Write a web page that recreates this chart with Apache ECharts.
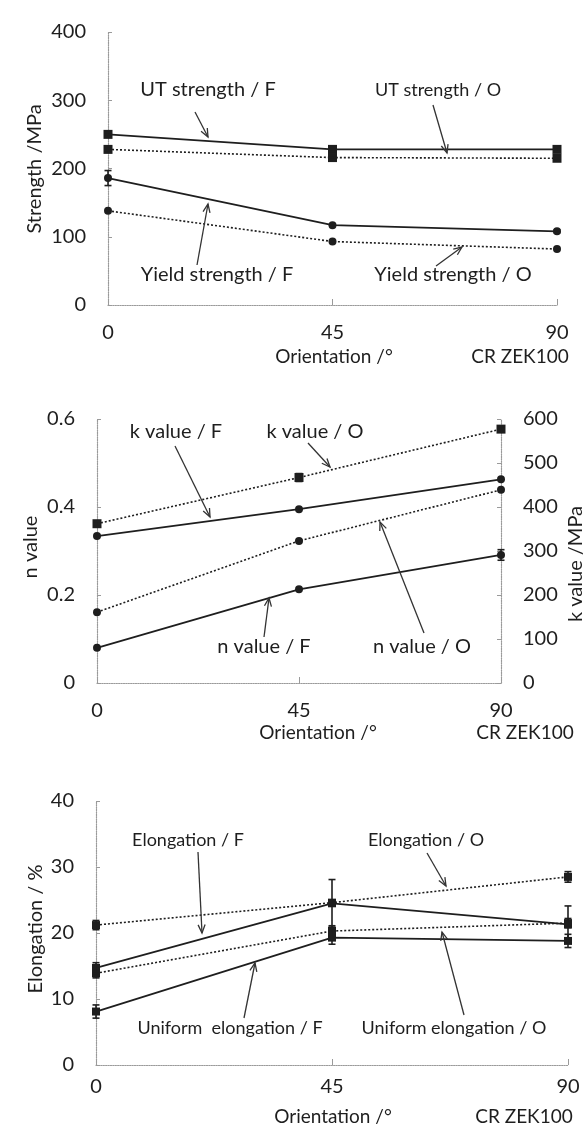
<!DOCTYPE html>
<html>
<head>
<meta charset="utf-8">
<script src="https://cdn.jsdelivr.net/npm/echarts@6/dist/echarts.min.js"></script>
<style>
html,body{margin:0;padding:0;background:#fff;}
#c{width:584px;height:1128px;}
</style>
</head>
<body>
<div id="c"></div>
<script>
// ---------- data ----------
const orientation = [0, 45, 90];
const xTicks = [0, 45, 90];
// Panel 1: strength (MPa)
const utsF = [250, 228, 228];
const utsO = [228, 216, 215];
const ysF  = [186, 117, 108];
const ysO  = [138, 93, 82];
const ysFErr = [11, 2, 2];
const utsFErr = [3, 3, 3];
const utsOErr = [2, 3, 3];
// Panel 2: n value and k value (MPa)
const nF = [0.080, 0.213, 0.291];
const nO = [0.161, 0.323, 0.439];
const kF = [334, 395, 463];
const kO = [362, 467, 577];
const nFErr = [0, 0, 0.012];
const kOErr = [5, 9, 5];
// Panel 3: elongation (%)
const elF = [14.7, 24.5, 21.3];
const elO = [21.2, 24.6, 28.5];
const ueF = [8.1, 19.3, 18.8];
const ueO = [13.9, 20.3, 21.5];
const elFErr = [0.8, 3.6, 2.8];
const elOErr = [0.7, 0, 0.8];
const ueFErr = [1.0, 1.0, 1.0];
const ueOErr = [0.7, 0.8, 0.7];

// ---------- styling ----------
const FONT = 'Lato';
const INK = '#1e1e1e';
const AX = '#9a9a9a';

function pairs(vals){ return orientation.map((x,i)=>[x, vals[i]]); }
function errData(vals, errs){ return orientation.map((x,i)=>[x, vals[i], errs[i]]).filter(d=>d[2]>0); }

function lineSeries(vals, xi, yi, dotted, symbol, size){
  return {
    type:'line', xAxisIndex:xi, yAxisIndex:yi, data:pairs(vals),
    symbol:symbol, symbolSize:size, showSymbol:true,
    lineStyle:{color:INK, width: dotted?1.6:1.8, type: dotted?[2,2]:'solid'},
    itemStyle:{color:INK}, z:3, animation:false
  };
}
function errSeries(vals, errs, xi, yi){
  return {
    type:'custom', xAxisIndex:xi, yAxisIndex:yi, data:errData(vals, errs),
    encode:{x:0, y:1}, z:4, animation:false,
    renderItem:function(params, api){
      const x = api.value(0), v = api.value(1), e = api.value(2);
      const t = api.coord([x, v+e]), b = api.coord([x, v-e]);
      const c = 3.5;
      const st = {stroke:INK, lineWidth:1.6};
      return {type:'group', children:[
        {type:'line', shape:{x1:t[0],y1:t[1],x2:b[0],y2:b[1]}, style:st},
        {type:'line', shape:{x1:t[0]-c,y1:t[1],x2:t[0]+c,y2:t[1]}, style:st},
        {type:'line', shape:{x1:b[0]-c,y1:b[1],x2:b[0]+c,y2:b[1]}, style:st}
      ]};
    }
  };
}

function xAxis(gi, margin){
  return {
    gridIndex:gi, type:'value', min:0, max:90, interval:45,
    axisLine:{show:true, onZero:false, lineStyle:{color:AX, type:'dotted', width:1.2}},
    axisTick:{show:true, inside:true, length:6, lineStyle:{color:AX}},
    splitLine:{show:false},
    axisLabel:{color:INK, fontFamily:FONT, fontSize:20, margin:margin,
      customValues:xTicks}
  };
}
function yAxis(gi, min, max, interval, pos, fmt){
  return {
    gridIndex:gi, type:'value', min:min, max:max, interval:interval, position:pos||'left',
    axisLine:{show:true, lineStyle:{color:AX, type:'dotted', width:1.2}},
    axisTick:{show:true, inside:true, length:4, lineStyle:{color:AX}},
    splitLine:{show:false},
    axisLabel:{color:INK, fontFamily:FONT, fontSize:20, margin:22, formatter:fmt}
  };
}

// ---------- annotations (layout only) ----------
const texts = [
  ['UT strength / F', 208, 90, 20],
  ['UT strength / O', 438, 90, 18],
  ['Yield strength / F', 217, 275, 20],
  ['Yield strength / O', 453, 275, 20],
  ['Orientation /\u00b0', 334, 357, 19],
  ['CR ZEK100', 520, 357, 19],
  ['k value / F', 176, 432, 20],
  ['k value / O', 315, 432, 20],
  ['n value / F', 264, 647, 20],
  ['n value / O', 422, 647, 20],
  ['Orientation /\u00b0', 318, 733, 19],
  ['CR ZEK100', 525, 733, 19],
  ['Elongation / F', 188, 840, 18],
  ['Elongation / O', 426, 840, 18],
  ['Uniform  elongation / F', 230, 1028, 18],
  ['Uniform elongation / O', 454, 1028, 18],
  ['Orientation /\u00b0', 333, 1117, 19],
  ['CR ZEK100', 524, 1117, 19]
];
const vtexts = [
  ['Strength /MPa', 35, 169, 20],
  ['n value', 31, 547, 20],
  ['k value /MPa', 576, 564, 20],
  ['Elongation / %', 36, 929, 20]
];
const arrows = [
  [195,112,208,137],[433,105,447,153],[197,265,208,204],[436,266,462,247],
  [175,446,210,517],[308,443,330,467],[264,637,269,598],[424,633,380,522],
  [198,852,202,933],[427,853,446,886],[244,1018,255,963],[464,1015,442,932]
];

const graphic = [];
texts.forEach(t=>graphic.push({type:'text', x:t[1], y:t[2], z:10,
  style:{text:t[0], fill:INK, font:t[3]+'px '+FONT, textAlign:'center', textVerticalAlign:'middle'}}));
vtexts.forEach(t=>graphic.push({type:'text', x:t[1], y:t[2], rotation:Math.PI/2, z:10,
  style:{text:t[0], fill:INK, font:t[3]+'px '+FONT, textAlign:'center', textVerticalAlign:'middle'}}));
arrows.forEach(a=>{
  const [x1,y1,x2,y2]=a; const ang=Math.atan2(y2-y1,x2-x1); const L=9, w=0.4;
  graphic.push({type:'line', z:10, shape:{x1,y1,x2,y2}, style:{stroke:'#333', lineWidth:1.3}});
  graphic.push({type:'polyline', z:10, shape:{points:[
    [x2-L*Math.cos(ang-w), y2-L*Math.sin(ang-w)],[x2,y2],[x2-L*Math.cos(ang+w), y2-L*Math.sin(ang+w)]]},
    style:{stroke:'#333', lineWidth:1.3, fill:null}});
});

const chart = echarts.init(document.getElementById('c'), null, {renderer:'canvas'});
chart.setOption({
  backgroundColor:'#ffffff',
  animation:false,
  grid:[
    {left:108, top:32, width:449, height:273},
    {left:97, top:419, width:404, height:264},
    {left:96, top:801, width:472, height:264}
  ],
  xAxis:[xAxis(0, 18), xAxis(1, 18), xAxis(2, 12)],
  yAxis:[
    yAxis(0, 0, 400, 100),
    yAxis(1, 0, 0.6, 0.2, 'left', v=>String(Math.round(v*10)/10)),
    yAxis(1, 0, 600, 100, 'right'),
    yAxis(2, 0, 40, 10)
  ],
  series:[
    lineSeries(utsF,0,0,false,'rect',9),
    lineSeries(utsO,0,0,true,'rect',9),
    lineSeries(ysF,0,0,false,'circle',8),
    lineSeries(ysO,0,0,true,'circle',8),
    errSeries(ysF, ysFErr,0,0),
    errSeries(utsF, utsFErr,0,0),
    errSeries(utsO, utsOErr,0,0),
    lineSeries(kF,1,2,false,'circle',8),
    lineSeries(kO,1,2,true,'rect',9),
    lineSeries(nF,1,1,false,'circle',8),
    lineSeries(nO,1,1,true,'circle',8),
    errSeries(nF, nFErr,1,1),
    errSeries(kO, kOErr,1,2),
    lineSeries(elF,2,3,false,'rect',8),
    lineSeries(elO,2,3,true,'rect',8),
    lineSeries(ueF,2,3,false,'rect',8),
    lineSeries(ueO,2,3,true,'rect',8),
    errSeries(elF, elFErr,2,3),
    errSeries(elO, elOErr,2,3),
    errSeries(ueF, ueFErr,2,3),
    errSeries(ueO, ueOErr,2,3)
  ],
  graphic:graphic
});
</script>
</body>
</html>
